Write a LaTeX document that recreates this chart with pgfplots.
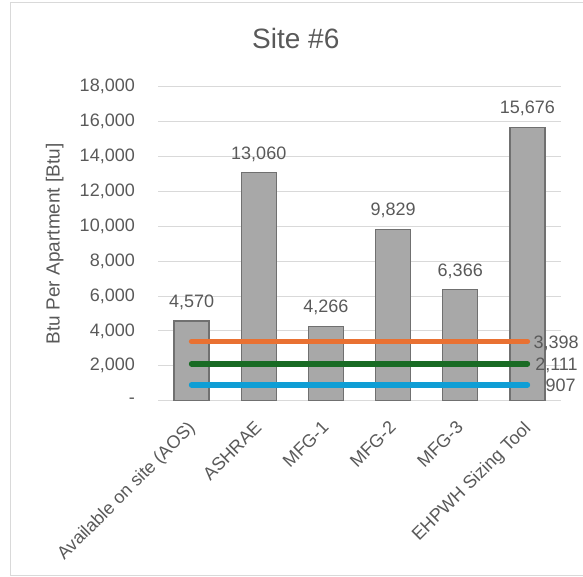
\documentclass[border=0pt]{standalone}
\usepackage{pgfplots}
\pgfplotsset{compat=1.18}
\usepackage{fontspec}
\setmainfont{Liberation Sans}
\definecolor{textgray}{HTML}{595959}
\definecolor{gridgray}{HTML}{D9D9D9}
\definecolor{barfill}{HTML}{A8A8A8}
\definecolor{baredge}{HTML}{707070}
\definecolor{lorange}{HTML}{E97132}
\definecolor{lgreen}{HTML}{196B24}
\definecolor{lblue}{HTML}{0F9ED5}
\pgfplotstableread{
x y lab
0 4570 {4,570}
1 13060 {13,060}
2 4266 {4,266}
3 9829 {9,829}
4 6366 {6,366}
5 15676 {15,676}
}\bardata
\begin{document}
\begin{tikzpicture}
\useasboundingbox (0pt,0pt) rectangle (583pt,577pt);
\draw[gridgray, line width=1pt] (10.5pt,1pt) -- (10.5pt,574.5pt) -- (583pt,574.5pt);
\draw[gridgray, line width=1pt] (10.5pt,1pt) -- (583pt,1pt);
\begin{axis}[
  at={(158pt,176.3pt)}, anchor=south west,
  scale only axis, width=403pt, height=314pt,
  xmin=-0.5, xmax=5.5, ymin=0, ymax=18000,
  clip=false,
  scaled y ticks=false,
  axis line style={draw=none},
  major tick length=0pt,
  ymajorgrids=true,
  major grid style={gridgray, line width=1pt},
  ytick={0,2000,...,18000},
  yticklabels={-\hspace{8pt},{2,000},{4,000},{6,000},{8,000},{10,000},{12,000},{14,000},{16,000},{18,000}},
  yticklabel style={anchor=east, inner sep=0pt, xshift=-23pt, font=\fontsize{18}{20}\selectfont, text=textgray},
  xtick={0,...,5},
  xticklabels={Available on site (AOS),ASHRAE,MFG-1,MFG-2,MFG-3,EHPWH Sizing Tool},
  xticklabel style={xshift=-5pt, yshift=-19pt, rotate=45, anchor=north east, inner sep=0pt, font=\fontsize{18}{20}\selectfont, text=textgray},
  ylabel={Btu Per Apartment [Btu]},
  ylabel style={at={(axis description cs:-0.256,0.5)}, anchor=center, font=\fontsize{19}{21}\selectfont, text=textgray},
  title={Site \#6},
  title style={at={(axis description cs:0.342,1.133)}, anchor=center, font=\fontsize{28}{32}\selectfont, text=textgray},
]
\addplot[ybar, bar width=35pt, fill=barfill, draw=baredge, line width=1.2pt,
  point meta=explicit symbolic, nodes near coords,
  every node near coord/.append style={anchor=base, inner sep=0pt, yshift=13.5pt, font=\fontsize{18}{20}\selectfont, text=textgray}]
  table[x=x, y=y, meta=lab] {\bardata};
\addplot[lorange, line width=5.5pt, line cap=round] coordinates {(0,3398) (5,3398)}
  node[pos=1, anchor=base east, inner sep=0pt, xshift=54pt, yshift=-7pt, text=textgray, font=\fontsize{18}{20}\selectfont] {3,398};
\addplot[lgreen, line width=5.5pt, line cap=round] coordinates {(0,2111) (5,2111)}
  node[pos=1, anchor=base east, inner sep=0pt, xshift=53pt, yshift=-7pt, text=textgray, font=\fontsize{18}{20}\selectfont] {2,111};
\addplot[lblue, line width=5.5pt, line cap=round] coordinates {(0,907) (5,907)}
  node[pos=1, anchor=base east, inner sep=0pt, xshift=51pt, yshift=-7pt, text=textgray, font=\fontsize{18}{20}\selectfont] {907};
\end{axis}
\end{tikzpicture}
\end{document}
